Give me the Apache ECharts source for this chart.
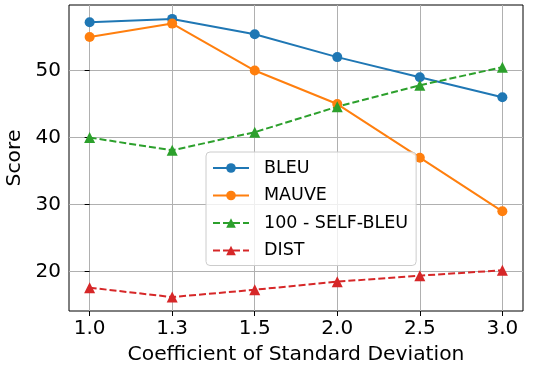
<!DOCTYPE html>
<html>
<head>
<meta charset="utf-8">
<script src="https://cdn.jsdelivr.net/npm/echarts@6/dist/echarts.min.js"></script>
<style>html,body{margin:0;padding:0;background:#fff}#c{width:540px;height:368px}</style>
</head>
<body>
<div id="c"></div>
<script>
const categories = ['1.0', '1.3', '1.5', '2.0', '2.5', '3.0'];
const bleu = [57.2, 57.7, 55.4, 52.0, 49.0, 46.0];
const mauve = [55.0, 57.0, 50.0, 45.0, 37.0, 29.0];
const selfBleu = [40.0, 38.1, 40.8, 44.6, 47.8, 50.5];
const dist = [17.6, 16.2, 17.3, 18.5, 19.4, 20.2];
const yTicks = [20, 30, 40, 50];
const seriesNames = ['BLEU', 'MAUVE', '100 - SELF-BLEU', 'DIST'];

const FONT = 'DejaVu Sans';
const xIdx = categories.map((c, i) => i);
const pairs = arr => arr.map((v, i) => [i, v]);

function mk(name, data, color, symbol, dashed) {
  return {
    name, type: 'line', data: pairs(data),
    symbol, symbolSize: symbol === 'circle' ? 10 : 11,
    lineStyle: { color, width: 2, type: dashed ? [7, 3] : 'solid' },
    itemStyle: { color },
    emphasis: { disabled: true }, animation: false
  };
}

const chart = echarts.init(document.getElementById('c'), null, { renderer: 'canvas' });
chart.setOption({
  animation: false,
  grid: { left: 69, right: 17, top: 5, bottom: 57, outerBoundsMode: 'none', containLabel: false, show: true, borderColor: '#000', borderWidth: 1, backgroundColor: 'transparent' },
  xAxis: {
    type: 'value', min: -0.25, max: 5.25,
    name: 'Coefficient of Standard Deviation', nameLocation: 'middle', nameGap: 34,
    nameTextStyle: { fontFamily: FONT, fontSize: 20.3, color: '#000' },
    axisLine: { show: false },
    axisTick: { show: true, customValues: xIdx, length: 5, lineStyle: { color: '#000', width: 1 } },
    axisLabel: { customValues: xIdx, formatter: v => categories[Math.round(v)], fontFamily: FONT, fontSize: 20, color: '#000', margin: 8 },
    splitLine: { show: true, lineStyle: { color: '#b0b0b0', width: 1 } }
  },
  yAxis: {
    type: 'value', min: 14.125, max: 59.775,
    name: 'Score', nameLocation: 'middle', nameGap: 39, nameRotate: 90,
    nameTextStyle: { fontFamily: FONT, fontSize: 20.3, color: '#000' },
    axisLine: { show: false },
    axisTick: { show: true, customValues: yTicks, length: 5, lineStyle: { color: '#000', width: 1 } },
    axisLabel: { customValues: yTicks, fontFamily: FONT, fontSize: 20, color: '#000', margin: 8 },
    splitLine: { show: true, lineStyle: { color: '#b0b0b0', width: 1 } }
  },
  legend: {
    orient: 'vertical', left: 206, top: 152,
    data: seriesNames,
    itemWidth: 36, itemHeight: 12, itemGap: 7.5,
    padding: [6, 8, 5, 6],
    backgroundColor: 'rgba(255,255,255,0.8)', borderColor: '#cccccc', borderWidth: 1, borderRadius: 4,
    textStyle: { fontFamily: FONT, fontSize: 17.5, color: '#000', padding: [0, 0, 0, 10], lineHeight: 20 }
  },
  series: [
    mk(seriesNames[0], bleu, '#1f77b4', 'circle', false),
    mk(seriesNames[1], mauve, '#ff7f0e', 'circle', false),
    mk(seriesNames[2], selfBleu, '#2ca02c', 'triangle', true),
    mk(seriesNames[3], dist, '#d62728', 'triangle', true)
  ]
});
</script>
</body>
</html>
